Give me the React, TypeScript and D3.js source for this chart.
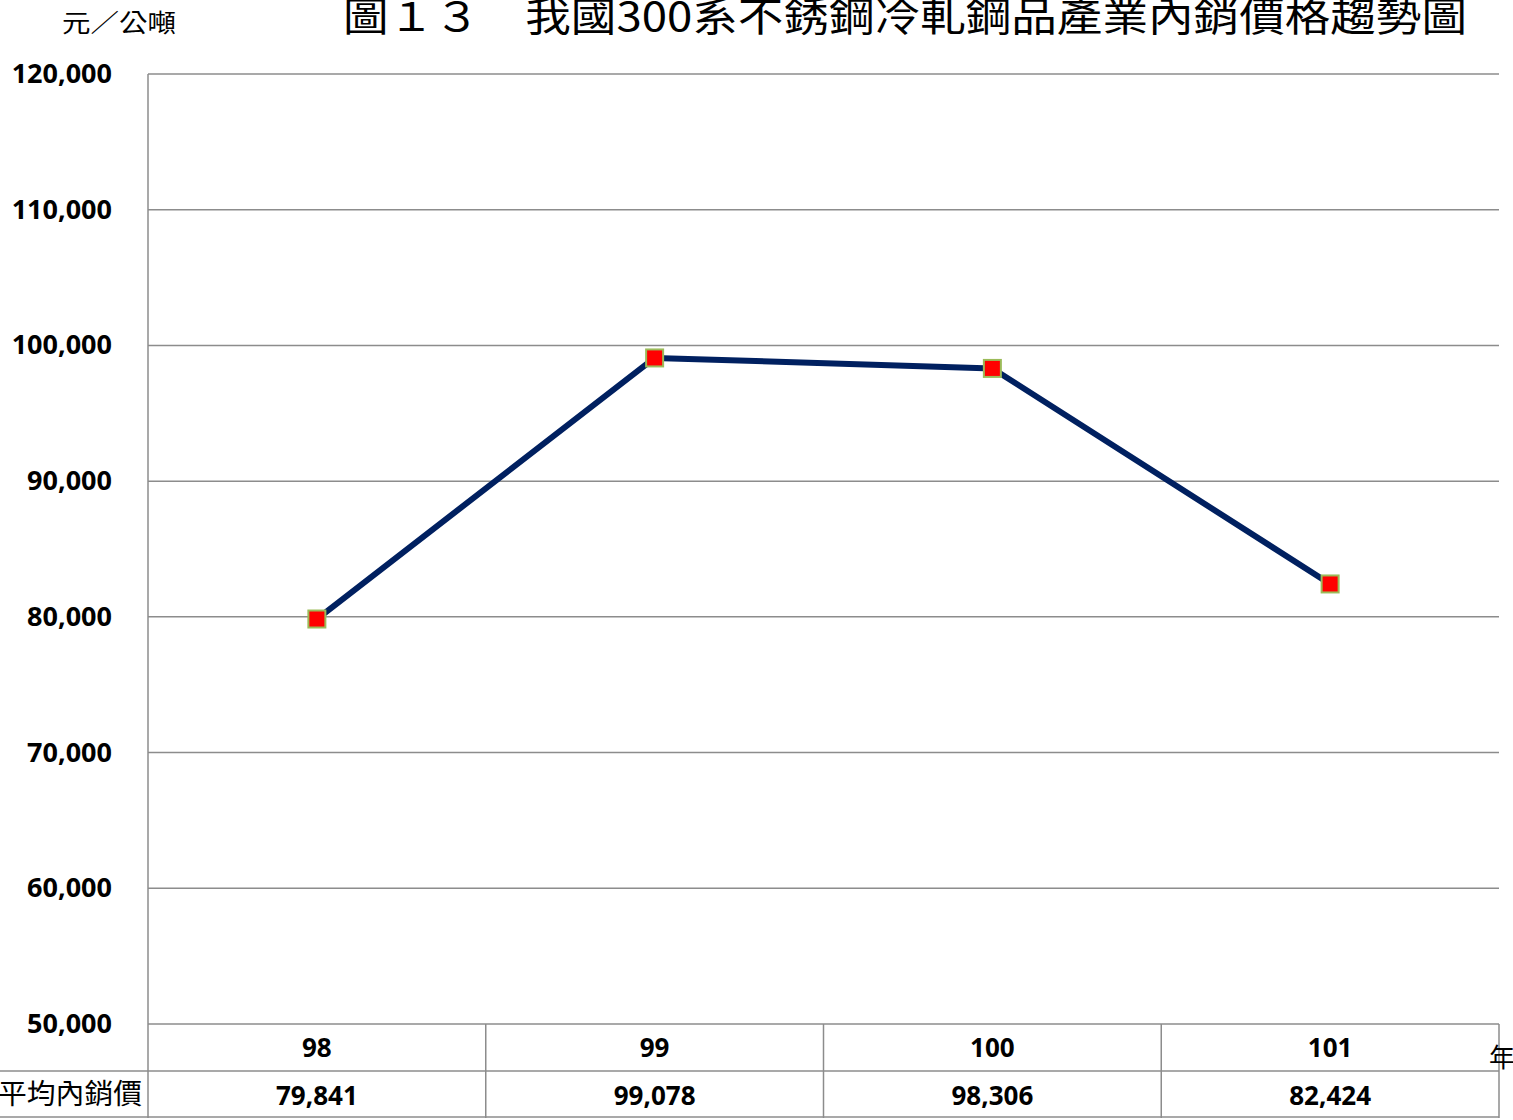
import React from "react";
import * as d3 from "d3";

const categories = ["98", "99", "100", "101"];
const values = [79841, 99078, 98306, 82424];
const yTicks = [50000, 60000, 70000, 80000, 90000, 100000, 110000, 120000];
const title = "圖１３　我國300系不銹鋼冷軋鋼品產業內銷價格趨勢圖";
const unitLabel = "元／公噸";
const xUnitLabel = "年";
const rowLabel = "平均內銷價";

export default function App() {
  const W = 1513, H = 1120;
  const left = 148, right = 1499, top = 74, bottom = 1024;
  const rowH = 47;
  const x = d3.scaleBand<string>().domain(categories).range([left, right]).padding(0);
  const y = d3.scaleLinear().domain([50000, 120000]).range([bottom, top]);
  const fmt = d3.format(",");
  const line = d3
    .line<number>()
    .x((_, i) => (x(categories[i]) as number) + x.bandwidth() / 2)
    .y((d) => y(d));
  const grid = "#8c8c8c";
  const numFont = "'Open Sans', 'Liberation Sans', sans-serif";
  const cjk = "'Noto Sans CJK TC', 'Noto Sans CJK SC', sans-serif";
  return (
    <svg
      width={W}
      height={H}
      style={{ position: "absolute", left: 0, top: 0, background: "#fff" }}
    >
      <rect x={0} y={0} width={W} height={H} fill="#fff" />
      {/* title */}
      <text
        x={343}
        y={31}
        fontFamily={cjk}
        fontSize={40}
        textLength={1124}
        lengthAdjust="spacingAndGlyphs"
        fill="#000"
      >
        {title}
      </text>
      <text
        x={62}
        y={32}
        fontFamily={cjk}
        fontSize={25}
        textLength={114}
        lengthAdjust="spacingAndGlyphs"
        fill="#000"
      >
        {unitLabel}
      </text>
      {/* gridlines */}
      {yTicks.map((t) => (
        <line
          key={t}
          x1={left}
          x2={right}
          y1={y(t)}
          y2={y(t)}
          stroke={grid}
          strokeWidth={1.5}
        />
      ))}
      {/* y tick labels */}
      {yTicks.map((t) => (
        <text
          key={"l" + t}
          x={112}
          y={y(t) + 9}
          textAnchor="end"
          fontFamily={numFont}
          fontWeight="bold"
          fontSize={27}
          fill="#000"
        >
          {fmt(t)}
        </text>
      ))}
      {/* left axis */}
      <line x1={left} x2={left} y1={top} y2={bottom + 2 * rowH} stroke={grid} strokeWidth={1.5} />
      {/* data table */}
      <line x1={0} x2={right} y1={bottom + rowH} y2={bottom + rowH} stroke={grid} strokeWidth={1.5} />
      <line x1={0} x2={right} y1={bottom + 2 * rowH - 1} y2={bottom + 2 * rowH - 1} stroke={grid} strokeWidth={1.5} />
      {categories.map((c) => (
        <line
          key={"v" + c}
          x1={(x(c) as number) + x.bandwidth()}
          x2={(x(c) as number) + x.bandwidth()}
          y1={bottom}
          y2={bottom + 2 * rowH}
          stroke={grid}
          strokeWidth={1.5}
        />
      ))}
      {categories.map((c, i) => (
        <g key={"t" + c}>
          <text
            x={(x(c) as number) + x.bandwidth() / 2}
            y={bottom + 33}
            textAnchor="middle"
            fontFamily={numFont}
            fontWeight="bold"
            fontSize={26}
            fill="#000"
          >
            {c}
          </text>
          <text
            x={(x(c) as number) + x.bandwidth() / 2}
            y={bottom + rowH + 34}
            textAnchor="middle"
            fontFamily={numFont}
            fontWeight="bold"
            fontSize={26}
            fill="#000"
          >
            {fmt(values[i])}
          </text>
        </g>
      ))}
      <text
        x={-2}
        y={bottom + rowH + 33}
        fontFamily={cjk}
        fontSize={28}
        textLength={144}
        lengthAdjust="spacingAndGlyphs"
        fill="#000"
      >
        {rowLabel}
      </text>
      <text x={1489} y={bottom + 43} fontFamily={cjk} fontSize={26} fill="#000">
        {xUnitLabel}
      </text>
      {/* line */}
      <path d={line(values) || ""} fill="none" stroke="#002060" strokeWidth={6} strokeLinejoin="round" />
      {values.map((v, i) => (
        <rect
          key={"m" + i}
          x={(x(categories[i]) as number) + x.bandwidth() / 2 - 8.5}
          y={y(v) - 8.5}
          width={17}
          height={17}
          fill="#ff0000"
          stroke="#9bbb59"
          strokeWidth={2}
        />
      ))}
    </svg>
  );
}
